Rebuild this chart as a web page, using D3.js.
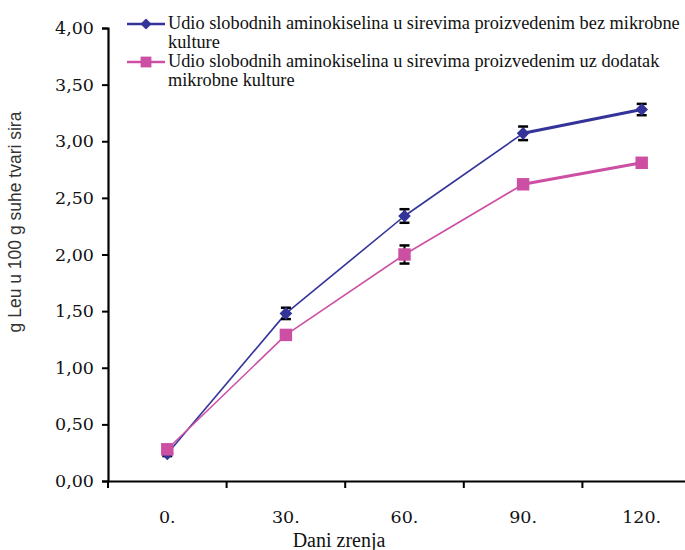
<!DOCTYPE html>
<html><head><meta charset="utf-8">
<script src="https://cdn.jsdelivr.net/npm/d3@7"></script>
<style>body{margin:0;background:#fff}svg{display:block}</style>
</head><body>
<svg id="chart" width="685" height="550"></svg>
<script>
const categories = ["0.", "30.", "60.", "90.", "120."];
const seriesNames = [
  ["Udio slobodnih aminokiselina u sirevima proizvedenim bez mikrobne", "kulture"],
  ["Udio slobodnih aminokiselina u sirevima proizvedenim uz dodatak", "mikrobne kulture"]
];
const bezKulture = [0.24, 1.48, 2.34, 3.07, 3.28];
const bezKultureErr = [0.02, 0.05, 0.06, 0.06, 0.05];
const uzKulturu = [0.28, 1.29, 2.0, 2.62, 2.81];
const uzKulturuErr = [0.02, 0.02, 0.08, 0.03, 0.03];
const yTicks = [0, 0.5, 1, 1.5, 2, 2.5, 3, 3.5, 4];

const colors = ["#333399", "#cc4fa3"];
const svg = d3.select("#chart");
const x = d3.scaleBand().domain(categories).range([108, 701]);
const y = d3.scaleLinear().domain([0, 4]).range([481, 28]);
const cx = c => x(c) + x.bandwidth() / 2;
const serif = "'DejaVu Serif', serif";

// Y axis
const yAx = svg.append("g").attr("transform", "translate(108,0)")
  .call(d3.axisLeft(y).tickValues(yTicks).tickSize(6).tickPadding(8)
    .tickFormat(d => d3.format(".2f")(d).replace(".", ",")));
yAx.select(".domain").attr("stroke", "#000").attr("stroke-width", 2.2);
yAx.selectAll(".tick line").attr("stroke", "#000").attr("stroke-width", 2);
yAx.selectAll("text").attr("font-family", serif).attr("font-size", 17.5).attr("fill", "#111");

// X axis
const xAx = svg.append("g").attr("transform", "translate(0,481)")
  .call(d3.axisBottom(x).tickSize(0).tickPadding(30));
xAx.select(".domain").attr("stroke", "#000").attr("stroke-width", 2.2);
xAx.selectAll("text").attr("font-family", serif).attr("font-size", 17.5).attr("fill", "#111");
// tick marks at category boundaries
const bounds = categories.map(c => x(c));
svg.append("g").selectAll("line").data(bounds).join("line")
  .attr("x1", d => d).attr("x2", d => d).attr("y1", 481).attr("y2", 488)
  .attr("stroke", "#000").attr("stroke-width", 2);

// Axis titles
svg.append("text").attr("x", 339).attr("y", 547).attr("text-anchor", "middle")
  .attr("font-family", "'Liberation Serif', serif").attr("font-size", 20).attr("fill", "#111")
  .text("Dani zrenja");
svg.append("text").attr("transform", "translate(21,222) rotate(-90)").attr("text-anchor", "middle")
  .attr("font-family", "'Liberation Sans', Arial, sans-serif").attr("font-size", 17.5).attr("fill", "#333")
  .text("g Leu u 100 g suhe tvari sira");

const series = [
  {vals: bezKulture, err: bezKultureErr, color: colors[0], sym: d3.symbolSquare, size: 80, rot: 45},
  {vals: uzKulturu, err: uzKulturuErr, color: colors[1], sym: d3.symbolSquare, size: 155, rot: 0}
];

series.forEach(s => {
  const pts = categories.map((c, i) => ({c, v: s.vals[i], e: s.err[i], i}));
  const segs = pts.slice(1).map((p, k) => [pts[k], p]);
  svg.append("g").selectAll("line").data(segs).join("line")
    .attr("x1", d => cx(d[0].c)).attr("y1", d => y(d[0].v))
    .attr("x2", d => cx(d[1].c)).attr("y2", d => y(d[1].v))
    .attr("stroke", s.color).attr("stroke-width", (d, k) => k === segs.length - 1 ? 3 : 1.6);
  const eb = svg.append("g").attr("stroke", "#000").attr("stroke-width", 2);
  pts.forEach(p => {
    const px = cx(p.c);
    eb.append("line").attr("x1", px).attr("x2", px).attr("y1", y(p.v - p.e)).attr("y2", y(p.v + p.e));
    [p.v - p.e, p.v + p.e].forEach(v => eb.append("line").attr("x1", px - 5).attr("x2", px + 5)
      .attr("y1", y(v)).attr("y2", y(v)).attr("stroke-width", 2.5));
  });
  svg.append("g").selectAll("path").data(pts).join("path")
    .attr("transform", d => `translate(${cx(d.c)},${y(d.v)}) rotate(${s.rot})`)
    .attr("d", d3.symbol().type(s.sym).size(s.size)).attr("fill", s.color);
});

// Legend
const legend = svg.append("g");
const legendTexts = [];
seriesNames.forEach((lines, i) => {
  const ly = 24 + i * 38;
  const s = series[i];
  legend.append("line").attr("x1", 127).attr("x2", 165).attr("y1", ly).attr("y2", ly)
    .attr("stroke", s.color).attr("stroke-width", 2.5);
  legend.append("path").attr("transform", `translate(146,${ly}) rotate(${s.rot})`)
    .attr("d", d3.symbol().type(s.sym).size(s.size * 0.75)).attr("fill", s.color);
  const t = legend.append("text").attr("font-family", "'Liberation Serif', serif")
    .attr("font-size", 17).attr("fill", "#111");
  lines.forEach((ln, j) => t.append("tspan").attr("x", 168).attr("y", ly + 5 + j * 18.5).text(ln));
  legendTexts.push(t);
});
// fit first legend line to reference width (~512px)
const firstLine = legendTexts[0].select("tspan").node();
const fs = Math.min(19.6, 17 * 512 / firstLine.getComputedTextLength());
legendTexts.forEach(t => t.attr("font-size", fs));
</script>
</body></html>
